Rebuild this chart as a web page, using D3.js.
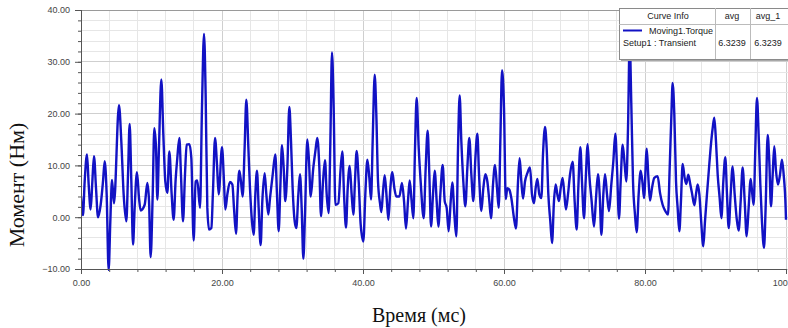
<!DOCTYPE html>
<html>
<head>
<meta charset="utf-8">
<script src="https://cdn.jsdelivr.net/npm/d3@7"></script>
<style>
  body { margin: 0; background: #fff; }
  svg { display: block; }
</style>
</head>
<body>
<svg id="chart" width="788" height="328"></svg>
<script>
// Moving1.Torque, Setup1 : Transient
const timeMs = [
  0.00, 0.28, 0.52, 0.85, 1.09, 1.37, 1.61, 1.84, 2.13, 2.41, 2.79, 3.12, 3.36, 3.64, 3.92, 4.16, 4.40, 4.68,
  5.39, 5.72, 6.05, 6.43, 6.67, 6.90, 7.14, 7.38, 7.61, 7.94, 8.23, 8.46, 9.03, 9.41, 9.65, 9.88,
  10.17, 10.40, 10.64, 10.83, 11.06, 11.39, 11.68, 11.96, 12.25, 12.53, 12.86, 13.14, 13.43, 13.66, 13.95,
  14.18, 14.47, 14.75, 14.99, 15.37, 15.65, 15.98, 16.26, 16.50, 16.88, 17.16, 17.45, 17.68, 17.92,
  18.16, 18.49, 18.72, 19.01, 19.29, 19.53,
  20.00, 20.28, 20.47, 20.76, 21.13, 21.47, 21.70, 21.99, 22.22, 22.46, 22.69, 22.93, 23.21, 23.45, 23.74,
  23.97, 24.25, 24.49, 24.73, 24.96, 25.20, 25.48, 25.72, 26.05, 26.29, 26.57, 26.81, 27.19, 27.56, 27.80,
  28.04, 28.27, 28.51, 28.75, 28.98, 29.27, 29.55, 29.79, 30.02, 30.31, 30.54, 30.83, 31.06, 31.30, 31.54,
  31.77, 32.10, 32.34, 32.58, 32.95, 33.24, 33.52, 33.81, 34.04, 34.33, 34.61, 34.85, 35.13, 35.37, 35.60,
  35.84, 36.08, 36.50, 36.83, 37.07, 37.31, 37.59, 37.83, 38.11, 38.39, 38.63, 38.86, 39.10, 39.39, 39.67,
  40.05, 40.33, 40.62, 40.90, 41.14, 41.37, 41.66, 41.89, 42.13, 42.41, 42.60, 42.84, 43.08, 43.36, 43.60,
  43.88, 44.16, 44.45, 44.73, 45.16, 45.53, 45.82, 46.10, 46.38, 46.62, 46.86, 47.14, 47.38, 47.61, 47.90,
  48.18, 48.61, 48.89, 49.17, 49.41, 49.65, 49.93, 50.17, 50.45, 50.69, 50.97, 51.30, 51.59, 51.87, 52.15,
  52.44, 52.67, 52.96, 53.24, 53.48, 53.71, 53.95, 54.23, 54.52, 54.80, 55.08, 55.37, 55.65, 55.94, 56.22,
  56.46, 56.79, 57.07, 57.35, 57.64, 57.92, 58.16, 58.44, 58.73, 59.01, 59.25, 59.48, 59.72, 60.00, 60.25,
  60.47, 60.76, 61.04, 61.42, 61.70, 61.99, 62.22, 62.46, 62.70, 62.98, 63.31, 63.69, 63.97, 64.26, 64.49,
  64.73, 65.01, 65.30, 65.53, 65.82, 66.05, 66.29, 66.57, 66.81, 67.09, 67.33, 67.57, 67.80, 68.04, 68.32,
  68.56, 68.79, 69.08, 69.36, 69.74, 70.02, 70.31, 70.54, 70.83, 71.06, 71.35, 71.58, 71.87, 72.10, 72.43,
  72.77, 73.05, 73.33, 73.57, 73.81, 74.09, 74.33, 74.61, 74.89, 75.22, 75.51, 75.79, 76.03, 76.31, 76.55,
  76.83, 77.12, 77.35, 77.59, 77.83, 78.06, 78.30, 78.58, 78.82, 79.10, 79.39, 79.67, 79.86, 80.25, 80.48,
  80.71, 80.99, 81.32, 81.79, 82.13, 82.50, 82.88, 83.26, 83.50, 83.73, 83.92, 84.16, 84.40, 84.63, 84.87,
  85.10, 85.34, 85.62, 85.86, 86.14, 86.43, 86.66, 87.00, 87.23, 87.47, 87.71, 87.94, 88.27, 88.51, 88.79,
  89.08, 89.31, 89.60, 89.83, 90.07, 90.31, 90.59, 90.83, 91.11, 91.39, 91.63, 91.87, 92.15, 92.43, 92.72,
  93.00, 93.28, 93.57, 93.85, 94.14, 94.42, 94.70, 94.99, 95.22, 95.41, 95.65, 95.88, 96.12, 96.36, 96.59,
  96.88, 97.11, 97.40, 97.63, 97.87, 98.11, 98.34, 98.58, 98.86, 99.15, 99.43, 99.67, 99.95, 100.00
];
const torqueNm = [
  4.0, 0.4, 6.9, 12.1, 6.3, 1.5, 6.9, 11.8, 5.6, 0.0, 2.4, 6.9, 10.8, 4.4, -10.2, -0.8, 7.2, 2.7,
  21.6, 14.6, 4.4, -0.8, 8.2, 18.0, 6.9, -5.3, 1.8, 8.7, 3.7, 1.3, 2.4, 6.6, 3.1, -7.7,
  4.4, 17.2, 13.4, 3.4, 13.4, 26.6, 15.9, 6.9, 4.7, 12.7, 4.4, -0.5, 7.4, 11.4, 15.3,
  8.2, -0.8, 8.2, 14.0, 14.1, 11.4, -4.5, 6.9, 7.1, 1.8, 21.1, 35.4, 23.7, 1.8,
  -2.4, -2.1, 5.0, 15.3, 10.1, 4.4,
  13.5, 6.9, 1.5, 4.4, 6.8, 6.3, 1.8, -3.2, 4.4, 9.0, 6.9, 4.0, 13.4, 22.7, 13.4,
  5.6, -0.8, -3.4, 4.4, 9.0, 1.8, -5.4, 3.1, 8.5, 4.4, 0.5, 3.7, 8.2, 12.1, 4.4,
  -2.7, 5.6, 13.9, 9.5, 3.1, 9.5, 21.3, 14.6, 5.6, -0.8, -2.1, 4.4, 8.3, 1.8, -8.0,
  0.5, 15.0, 10.8, 4.0, 9.5, 12.7, 15.3, 9.5, 0.2, 6.9, 11.0, 4.4, 0.8, 14.6, 31.8,
  21.1, 2.4, 2.7, 9.5, 12.7, 4.4, -2.0, 5.6, 9.9, 4.4, 0.5, 6.9, 12.8, 6.9, -1.4,
  -4.7, 4.4, 11.1, 7.6, 3.4, 14.6, 27.5, 19.8, 6.9, 2.7, 1.0, 5.0, 8.1, 3.7, -0.5,
  5.6, 8.7, 5.6, 4.0, 4.0, 6.6, 3.1, -2.2, 3.1, 7.1, 3.7, -0.2, 13.4, 23.0, 13.4,
  6.9, -0.2, 9.5, 16.7, 8.2, -1.8, 4.4, 9.0, 3.1, -1.8, 4.4, 10.1, 3.1, 1.8, -2.7,
  3.1, 6.7, 0.5, -3.7, 13.4, 23.5, 14.6, 6.9, 2.1, 9.5, 15.3, 8.2, 3.1, 11.4, 16.1,
  8.2, 1.2, 5.6, 8.3, 6.9, 3.1, -0.2, 6.3, 10.1, 5.6, 1.8, 14.6, 28.4, 21.1, 3.5,
  5.6, 5.3, 3.7, -0.2, -2.2, 6.9, 11.4, 6.9, 3.6, 6.9, 8.5, 9.6, 4.4, 2.7, 5.6,
  7.4, 4.4, 3.7, 12.1, 17.4, 13.4, 4.4, -0.8, -5.0, 3.1, 6.3, 4.4, 3.1, 5.6, 7.6,
  4.4, 1.5, 4.4, 8.2, 10.7, 3.1, -2.4, 5.6, 13.5, 6.9, -0.2, 6.9, 14.1, 8.2, 3.1,
  -1.8, 3.7, 8.3, 4.4, -3.4, 4.4, 8.3, 4.4, 1.2, 6.3, 10.8, 16.1, 9.5, -0.3, 6.9,
  14.0, 10.1, 6.9, 17.2, 34.0, 21.7, 6.9, 0.5, -2.9, 4.4, 9.0, 6.3, 3.7, 13.2, 7.6,
  3.2, 5.6, 7.6, 7.9, 4.7, 2.4, 1.2, 0.5, 9.5, 19.2, 25.9, 19.8, 6.9, 1.8, -2.7,
  3.1, 10.3, 7.6, 6.4, 8.2, 6.3, 4.7, 2.3, 4.4, 6.3, 4.4, -0.2, -5.6, -0.8, 4.4,
  9.5, 13.4, 17.2, 19.2, 14.6, 8.2, 3.7, -0.2, 6.9, 11.6, 4.4, -2.1, 4.4, 9.8, 4.4,
  -0.2, -2.6, 3.1, 9.6, 3.1, -3.7, 1.8, 7.4, 4.4, 2.4, 13.4, 23.0, 15.9, 6.3, -0.8,
  -5.9, 1.8, 15.9, 10.8, 2.1, 8.2, 13.7, 9.0, 6.3, 8.2, 11.1, 8.2, 1.8, -0.5
];
const xMajorTicks = [0, 20, 40, 60, 80, 100];
const yMajorTicks = [-10, 0, 10, 20, 30, 40];
const legendHeader = ["Curve Info", "avg", "avg_1"];
const legendCurve = "Moving1.Torque";
const legendSetup = "Setup1 : Transient";
const legendValues = [6.3239, 6.3239];

const svg = d3.select("#chart");
const m = {left: 81, top: 10, right: 786, bottom: 269};

const x = d3.scaleLinear().domain([0, 100]).range([m.left, m.right]);
const y = d3.scaleLinear().domain([-10, 40]).range([m.bottom, m.top]);
const fmt = d3.format(".2f");

// grid
const grid = svg.append("g");
grid.selectAll("line.gx")
    .data(d3.range(0, 101, 4))
    .join("line")
    .attr("x1", d => x(d)).attr("x2", d => x(d))
    .attr("y1", m.top).attr("y2", m.bottom)
    .attr("stroke", d => d % 20 === 0 ? "#cfcfcf" : "#e6e6e6")
    .attr("stroke-width", 1)
    .attr("shape-rendering", "crispEdges");
grid.selectAll("line.gy")
    .data(d3.range(-10, 41, 2))
    .join("line")
    .attr("x1", m.left).attr("x2", 788)
    .attr("y1", d => y(d)).attr("y2", d => y(d))
    .attr("stroke", d => d % 10 === 0 ? "#cfcfcf" : "#e6e6e6")
    .attr("stroke-width", 1)
    .attr("shape-rendering", "crispEdges");

// frame top
svg.append("line")
    .attr("x1", m.left).attr("x2", 788)
    .attr("y1", m.top).attr("y2", m.top)
    .attr("stroke", "#9a9a9a")
    .attr("shape-rendering", "crispEdges");

// curve
const line = d3.line()
    .x((d, i) => x(timeMs[i]))
    .y(d => y(d))
    .curve(d3.curveMonotoneX);

svg.append("defs").append("clipPath").attr("id", "plotClip")
    .append("rect")
    .attr("x", m.left).attr("y", m.top - 2)
    .attr("width", 788 - m.left).attr("height", m.bottom - m.top + 4);

svg.append("path")
    .datum(torqueNm)
    .attr("clip-path", "url(#plotClip)")
    .attr("d", line)
    .attr("fill", "none")
    .attr("stroke", "#1212c4")
    .attr("stroke-width", 2.4)
    .attr("stroke-linejoin", "round");

// axes
function styleAxis(g) {
    g.select(".domain").attr("stroke", "#555");
    g.selectAll(".tick line").attr("stroke", "#555");
    g.selectAll(".tick text")
        .attr("fill", "#444")
        .attr("font-family", "Liberation Sans, Arial, sans-serif")
        .attr("font-size", "9px");
}

svg.append("g")
    .attr("transform", `translate(0,${m.bottom})`)
    .call(d3.axisBottom(x).tickValues(d3.range(0, 101, 4)).tickSize(3).tickFormat(""))
    .call(styleAxis);
svg.append("g")
    .attr("transform", `translate(0,${m.bottom})`)
    .call(d3.axisBottom(x).tickValues(xMajorTicks).tickSize(5).tickPadding(6).tickFormat(fmt))
    .call(styleAxis);

svg.append("g")
    .attr("transform", `translate(${m.left},0)`)
    .call(d3.axisLeft(y).tickValues(d3.range(-10, 41, 2)).tickSize(3).tickFormat(""))
    .call(styleAxis);
svg.append("g")
    .attr("transform", `translate(${m.left},0)`)
    .call(d3.axisLeft(y).tickValues(yMajorTicks).tickSize(6).tickPadding(5).tickFormat(fmt))
    .call(styleAxis);

// axis titles
svg.append("text")
    .attr("x", 419).attr("y", 322)
    .attr("text-anchor", "middle")
    .attr("font-family", "Liberation Serif, Times New Roman, serif")
    .attr("font-size", "20px")
    .attr("fill", "#111")
    .text("Время (мс)");

svg.append("text")
    .attr("transform", "translate(24,185) rotate(-90)")
    .attr("text-anchor", "middle")
    .attr("font-family", "Liberation Serif, Times New Roman, serif")
    .attr("font-size", "22px")
    .attr("fill", "#111")
    .text("Момент (Нм)");

// legend table
const lg = svg.append("g").attr("font-family", "Liberation Sans, Arial, sans-serif")
    .attr("font-size", "9px").attr("fill", "#222");
lg.append("rect").attr("x", 621).attr("y", 10).attr("width", 180).attr("height", 51).attr("fill", "#a8a8a8");
lg.append("rect").attr("x", 619).attr("y", 8).attr("width", 180).attr("height", 51)
    .attr("fill", "#fff").attr("stroke", "#8a8a8a").attr("shape-rendering", "crispEdges");
lg.append("line").attr("x1", 619).attr("x2", 799).attr("y1", 24).attr("y2", 24)
    .attr("stroke", "#bbb").attr("shape-rendering", "crispEdges");
[715, 750].forEach(cx => {
    lg.append("line").attr("x1", cx).attr("x2", cx).attr("y1", 8).attr("y2", 59)
        .attr("stroke", "#bbb").attr("shape-rendering", "crispEdges");
});
lg.selectAll("text.hd")
    .data(legendHeader)
    .join("text")
    .attr("x", (d, i) => [668, 732, 768][i])
    .attr("y", 19)
    .attr("text-anchor", "middle")
    .text(d => d);
lg.append("line").attr("x1", 623).attr("x2", 642).attr("y1", 30.5).attr("y2", 30.5)
    .attr("stroke", "#1212c4").attr("stroke-width", 2);
lg.append("text").attr("x", 649).attr("y", 34).text(legendCurve);
lg.append("text").attr("x", 623).attr("y", 46).text(legendSetup);
lg.selectAll("text.val")
    .data(legendValues)
    .join("text")
    .attr("x", (d, i) => [732, 768][i])
    .attr("y", 46)
    .attr("text-anchor", "middle")
    .text(d => d3.format(".4f")(d));
</script>
</body>
</html>
